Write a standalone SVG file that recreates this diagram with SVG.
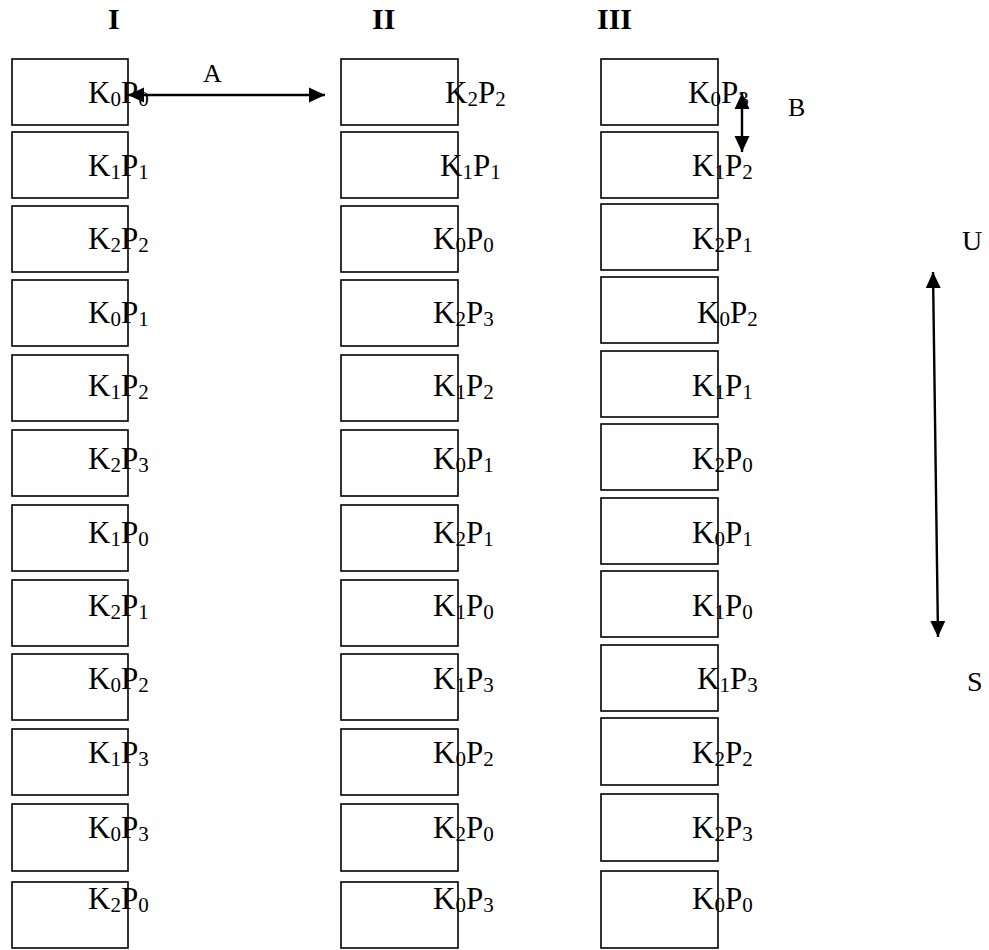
<svg xmlns="http://www.w3.org/2000/svg" width="989" height="950" viewBox="0 0 989 950">
<style>
.bx{fill:#fff;stroke:#000;stroke-width:1.6}
.t{font-family:"Liberation Serif","Times New Roman",serif;font-size:31px;fill:#000}
.s{font-size:21px}
.h{font-family:"Liberation Serif","Times New Roman",serif;font-size:30px;font-weight:bold;fill:#000}
.l{font-family:"Liberation Serif","Times New Roman",serif;font-size:26px;fill:#000}
.c{stroke:#000;stroke-width:2.4;fill:none;marker-start:url(#ah);marker-end:url(#ah)}
</style>
<defs>
<marker id="ah" viewBox="0 0 16 16" refX="16" refY="8" markerWidth="16" markerHeight="16" markerUnits="userSpaceOnUse" orient="auto-start-reverse">
<path d="M0,0.5 L16,8 L0,15.5 z" fill="#000"/>
</marker>
</defs>
<g id="headers">
<text class="h" x="108" y="29">I</text>
<text class="h" x="372" y="29">II</text>
<text class="h" x="597" y="29">III</text>
</g>
<g id="col1">
<g id="n1-1"><rect class="bx" x="12" y="59" width="116" height="66"/><text class="t" x="88" y="103">K<tspan class="s" dy="3">0</tspan><tspan dy="-3">P</tspan><tspan class="s" dy="3">0</tspan></text></g>
<g id="n1-2"><rect class="bx" x="12" y="132" width="116" height="66"/><text class="t" x="88" y="176">K<tspan class="s" dy="3">1</tspan><tspan dy="-3">P</tspan><tspan class="s" dy="3">1</tspan></text></g>
<g id="n1-3"><rect class="bx" x="12" y="206" width="116" height="66"/><text class="t" x="88" y="249">K<tspan class="s" dy="3">2</tspan><tspan dy="-3">P</tspan><tspan class="s" dy="3">2</tspan></text></g>
<g id="n1-4"><rect class="bx" x="12" y="280" width="116" height="66"/><text class="t" x="88" y="323">K<tspan class="s" dy="3">0</tspan><tspan dy="-3">P</tspan><tspan class="s" dy="3">1</tspan></text></g>
<g id="n1-5"><rect class="bx" x="12" y="355" width="116" height="66"/><text class="t" x="88" y="396">K<tspan class="s" dy="3">1</tspan><tspan dy="-3">P</tspan><tspan class="s" dy="3">2</tspan></text></g>
<g id="n1-6"><rect class="bx" x="12" y="430" width="116" height="66"/><text class="t" x="88" y="469">K<tspan class="s" dy="3">2</tspan><tspan dy="-3">P</tspan><tspan class="s" dy="3">3</tspan></text></g>
<g id="n1-7"><rect class="bx" x="12" y="505" width="116" height="66"/><text class="t" x="88" y="543">K<tspan class="s" dy="3">1</tspan><tspan dy="-3">P</tspan><tspan class="s" dy="3">0</tspan></text></g>
<g id="n1-8"><rect class="bx" x="12" y="580" width="116" height="66"/><text class="t" x="88" y="616">K<tspan class="s" dy="3">2</tspan><tspan dy="-3">P</tspan><tspan class="s" dy="3">1</tspan></text></g>
<g id="n1-9"><rect class="bx" x="12" y="654" width="116" height="66"/><text class="t" x="88" y="689">K<tspan class="s" dy="3">0</tspan><tspan dy="-3">P</tspan><tspan class="s" dy="3">2</tspan></text></g>
<g id="n1-10"><rect class="bx" x="12" y="729" width="116" height="66"/><text class="t" x="88" y="763">K<tspan class="s" dy="3">1</tspan><tspan dy="-3">P</tspan><tspan class="s" dy="3">3</tspan></text></g>
<g id="n1-11"><rect class="bx" x="12" y="804" width="116" height="67"/><text class="t" x="88" y="838">K<tspan class="s" dy="3">0</tspan><tspan dy="-3">P</tspan><tspan class="s" dy="3">3</tspan></text></g>
<g id="n1-12"><rect class="bx" x="12" y="882" width="116" height="66"/><text class="t" x="88" y="909">K<tspan class="s" dy="3">2</tspan><tspan dy="-3">P</tspan><tspan class="s" dy="3">0</tspan></text></g>
</g>
<g id="col2">
<g id="n2-1"><rect class="bx" x="341" y="59" width="117" height="66"/><text class="t" x="445" y="103">K<tspan class="s" dy="3">2</tspan><tspan dy="-3">P</tspan><tspan class="s" dy="3">2</tspan></text></g>
<g id="n2-2"><rect class="bx" x="341" y="132" width="117" height="66"/><text class="t" x="440" y="176">K<tspan class="s" dy="3">1</tspan><tspan dy="-3">P</tspan><tspan class="s" dy="3">1</tspan></text></g>
<g id="n2-3"><rect class="bx" x="341" y="206" width="117" height="66"/><text class="t" x="433" y="249">K<tspan class="s" dy="3">0</tspan><tspan dy="-3">P</tspan><tspan class="s" dy="3">0</tspan></text></g>
<g id="n2-4"><rect class="bx" x="341" y="280" width="117" height="66"/><text class="t" x="433" y="323">K<tspan class="s" dy="3">2</tspan><tspan dy="-3">P</tspan><tspan class="s" dy="3">3</tspan></text></g>
<g id="n2-5"><rect class="bx" x="341" y="355" width="117" height="66"/><text class="t" x="433" y="396">K<tspan class="s" dy="3">1</tspan><tspan dy="-3">P</tspan><tspan class="s" dy="3">2</tspan></text></g>
<g id="n2-6"><rect class="bx" x="341" y="430" width="117" height="66"/><text class="t" x="433" y="469">K<tspan class="s" dy="3">0</tspan><tspan dy="-3">P</tspan><tspan class="s" dy="3">1</tspan></text></g>
<g id="n2-7"><rect class="bx" x="341" y="505" width="117" height="66"/><text class="t" x="433" y="543">K<tspan class="s" dy="3">2</tspan><tspan dy="-3">P</tspan><tspan class="s" dy="3">1</tspan></text></g>
<g id="n2-8"><rect class="bx" x="341" y="580" width="117" height="66"/><text class="t" x="433" y="616">K<tspan class="s" dy="3">1</tspan><tspan dy="-3">P</tspan><tspan class="s" dy="3">0</tspan></text></g>
<g id="n2-9"><rect class="bx" x="341" y="654" width="117" height="66"/><text class="t" x="433" y="689">K<tspan class="s" dy="3">1</tspan><tspan dy="-3">P</tspan><tspan class="s" dy="3">3</tspan></text></g>
<g id="n2-10"><rect class="bx" x="341" y="729" width="117" height="66"/><text class="t" x="433" y="763">K<tspan class="s" dy="3">0</tspan><tspan dy="-3">P</tspan><tspan class="s" dy="3">2</tspan></text></g>
<g id="n2-11"><rect class="bx" x="341" y="804" width="117" height="67"/><text class="t" x="433" y="838">K<tspan class="s" dy="3">2</tspan><tspan dy="-3">P</tspan><tspan class="s" dy="3">0</tspan></text></g>
<g id="n2-12"><rect class="bx" x="341" y="882" width="117" height="66"/><text class="t" x="433" y="909">K<tspan class="s" dy="3">0</tspan><tspan dy="-3">P</tspan><tspan class="s" dy="3">3</tspan></text></g>
</g>
<g id="col3">
<g id="n3-1"><rect class="bx" x="601" y="59" width="117" height="66"/><text class="t" x="688" y="103">K<tspan class="s" dy="3">0</tspan><tspan dy="-3">P</tspan><tspan class="s" dy="3">3</tspan></text></g>
<g id="n3-2"><rect class="bx" x="601" y="132" width="117" height="66"/><text class="t" x="692" y="176">K<tspan class="s" dy="3">1</tspan><tspan dy="-3">P</tspan><tspan class="s" dy="3">2</tspan></text></g>
<g id="n3-3"><rect class="bx" x="601" y="204" width="117" height="66"/><text class="t" x="692" y="249">K<tspan class="s" dy="3">2</tspan><tspan dy="-3">P</tspan><tspan class="s" dy="3">1</tspan></text></g>
<g id="n3-4"><rect class="bx" x="601" y="277" width="117" height="66"/><text class="t" x="697" y="323">K<tspan class="s" dy="3">0</tspan><tspan dy="-3">P</tspan><tspan class="s" dy="3">2</tspan></text></g>
<g id="n3-5"><rect class="bx" x="601" y="351" width="117" height="66"/><text class="t" x="692" y="396">K<tspan class="s" dy="3">1</tspan><tspan dy="-3">P</tspan><tspan class="s" dy="3">1</tspan></text></g>
<g id="n3-6"><rect class="bx" x="601" y="424" width="117" height="66"/><text class="t" x="692" y="469">K<tspan class="s" dy="3">2</tspan><tspan dy="-3">P</tspan><tspan class="s" dy="3">0</tspan></text></g>
<g id="n3-7"><rect class="bx" x="601" y="498" width="117" height="66"/><text class="t" x="692" y="543">K<tspan class="s" dy="3">0</tspan><tspan dy="-3">P</tspan><tspan class="s" dy="3">1</tspan></text></g>
<g id="n3-8"><rect class="bx" x="601" y="571" width="117" height="66"/><text class="t" x="692" y="616">K<tspan class="s" dy="3">1</tspan><tspan dy="-3">P</tspan><tspan class="s" dy="3">0</tspan></text></g>
<g id="n3-9"><rect class="bx" x="601" y="645" width="117" height="66"/><text class="t" x="697" y="689">K<tspan class="s" dy="3">1</tspan><tspan dy="-3">P</tspan><tspan class="s" dy="3">3</tspan></text></g>
<g id="n3-10"><rect class="bx" x="601" y="718" width="117" height="67"/><text class="t" x="692" y="763">K<tspan class="s" dy="3">2</tspan><tspan dy="-3">P</tspan><tspan class="s" dy="3">2</tspan></text></g>
<g id="n3-11"><rect class="bx" x="601" y="794" width="117" height="67"/><text class="t" x="692" y="838">K<tspan class="s" dy="3">2</tspan><tspan dy="-3">P</tspan><tspan class="s" dy="3">3</tspan></text></g>
<g id="n3-12"><rect class="bx" x="601" y="871" width="117" height="77"/><text class="t" x="692" y="909">K<tspan class="s" dy="3">0</tspan><tspan dy="-3">P</tspan><tspan class="s" dy="3">0</tspan></text></g>
</g>
<g id="connectors">
<line class="c" x1="128" y1="95" x2="325" y2="95"/>
<line class="c" x1="742" y1="93" x2="742" y2="152"/>
<line class="c" x1="933" y1="272" x2="938" y2="637"/>
</g>
<g id="labels">
<text class="l" x="203" y="82">A</text>
<text class="l" x="788" y="116">B</text>
<text class="l" x="962" y="250" style="font-size:28px">U</text>
<text class="l" x="967" y="691" style="font-size:28px">S</text>
</g>
</svg>
